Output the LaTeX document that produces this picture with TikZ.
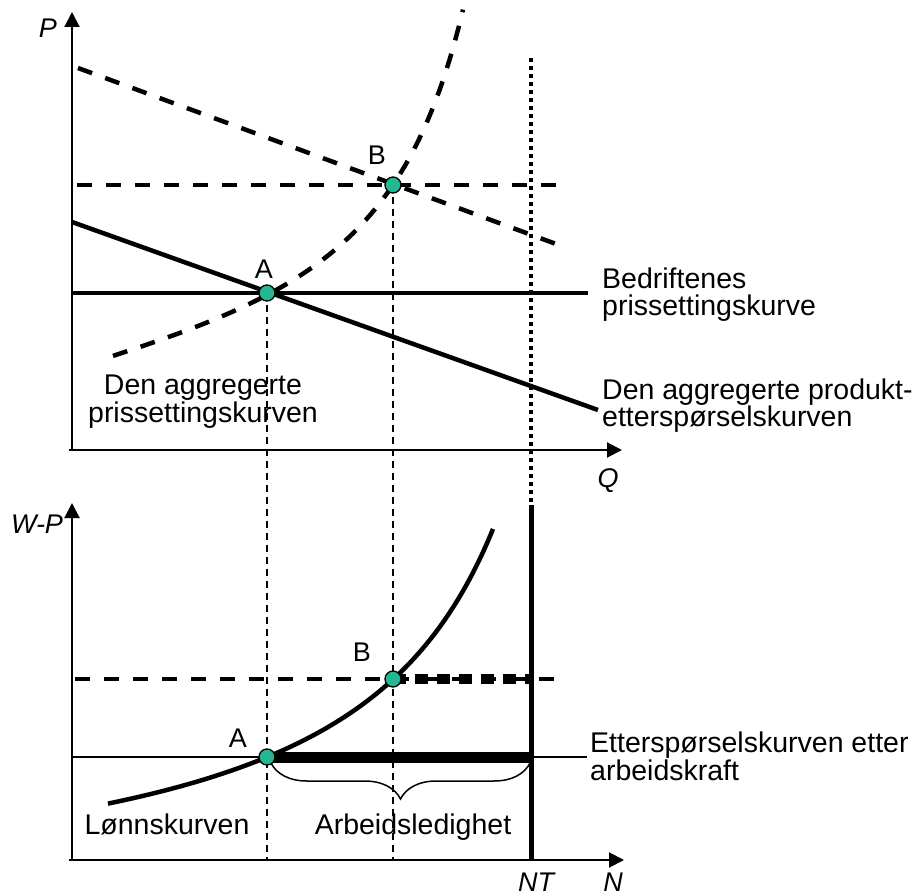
\documentclass[tikz,border=0pt]{standalone}
\usepackage{fontspec}
\setmainfont{Liberation Sans}
\usepackage{tikz}
\usetikzlibrary{arrows.meta}
\usetikzlibrary{decorations.pathreplacing}

\definecolor{eqgreen}{RGB}{36,184,146}

\begin{document}
\begin{tikzpicture}[x=1pt,y=-1pt,
    axis/.style={line width=2pt,-{Triangle[length=15pt,width=15pt]}},
    curve/.style={line width=4.5pt},
    dashcurve/.style={line width=4.5pt,dash pattern=on 15pt off 14pt},
    guide/.style={line width=2pt,dash pattern=on 7pt off 5pt},
    eqpoint/.style={circle,draw,line width=1.3pt,fill=eqgreen,minimum size=16pt,inner sep=0pt},
    ptlabel/.style={font=\fontsize{27}{27}\selectfont,inner sep=0pt},
    axlabel/.style={font=\fontsize{27}{27}\selectfont\itshape,inner sep=0pt},
    txt/.style={font=\fontsize{28.5}{27}\selectfont,inner sep=0pt,align=left}]
    \useasboundingbox (0,0) rectangle (913,896);

    % Define the key positions
    \def\xA{267}   % employment at A
    \def\xB{393}   % employment at B
    \def\xNT{531}  % labour force
    \def\yQ{450}   % Q axis
    \def\yN{860}   % N axis

    % Calculate the coordinates of the points
    \coordinate (A1) at (\xA,293);
    \coordinate (B1) at (\xB,185);
    \coordinate (A2) at (\xA,757);
    \coordinate (B2) at (\xB,679);
    \coordinate (NTtop) at (\xNT,58);
    \coordinate (NTmid) at (\xNT,505);
    \coordinate (NTbot) at (\xNT,\yN);

    % Draw the axes
    \draw[axis] (72,\yQ) -- (72,12);
    \draw[axis] (69,\yQ) -- (622,\yQ);
    \draw[axis] (72,\yN) -- (72,503);
    \draw[axis] (69,\yN) -- (624,\yN);
    \node[axlabel,anchor=base] (Plab) at (48,38) {P};
    \node[axlabel,anchor=base] (Qlab) at (608,487) {Q};
    \node[axlabel,anchor=base] (WPlab) at (37,533) {W-P};
    \node[axlabel,anchor=base] (NTlab) at (536,891) {NT};
    \node[axlabel,anchor=base] (Nlab) at (613,891) {N};

    % Draw the texts (base is the last line)
    \node[txt,anchor=base west] (firmlab) at (602,315) {Bedriftenes\\prissettingskurve};
    \node[txt,anchor=base west] (demlab) at (602,426) {Den aggregerte produkt-\\etterspørselskurven};
    \node[txt,align=center,anchor=base] (agglab) at (203,422) {Den aggregerte\\[1pt]prissettingskurven};
    \node[txt,anchor=base west] (labdemlab) at (590,780) {Etterspørselskurven etter\\[1pt]arbeidskraft};
    \node[txt,anchor=base] (wagelab) at (167,834) {Lønnskurven};
    \node[txt,anchor=base] (unemplab) at (413,834) {Arbeidsledighet};

    % Draw the guide lines
    \draw[guide] (A1) -- (\xA,\yN);
    \draw[guide] (B1) -- (\xB,\yN);
    \draw[line width=4.5pt,dash pattern=on 4pt off 4pt] (NTtop) -- (NTmid);
    \draw[line width=5pt] (NTmid) -- (NTbot);

    % Draw the upper panel
    \draw[dashcurve] (78,68) -- (567,248);
    \draw[dashcurve] (77,185) -- (570,185);
    \draw[curve] (72,222) -- (598,410);
    \draw[curve] (72,293) -- (588,293);
    \draw[dashcurve] plot[domain=113:463,samples=80]
        (\x,{440-439/((565-\x)/100)+13*((463-\x)/350)^3});

    % Draw the lower panel
    \draw[dashcurve] (75,679) -- (557,679);
    \draw[line width=10pt,dash pattern=on 13pt off 9pt] (B2) -- (\xNT,679);
    \draw[line width=2.5pt] (72,757) -- (587,757);
    \draw[line width=11pt] (A2) -- (\xNT,757);
    \draw[curve] plot[domain=108:493,samples=80] (\x,{915.6-607/((650-\x)/100)});
    \draw[line width=1.5pt,decorate,decoration={brace,mirror,amplitude=36pt}] (271,763) -- (530,763);

    % Draw the equilibria
    \node[eqpoint] (ptA1) at (A1) {};
    \node[eqpoint] (ptB1) at (B1) {};
    \node[eqpoint] (ptA2) at (A2) {};
    \node[eqpoint] (ptB2) at (B2) {};
    \node[ptlabel,anchor=base] (labA1) at (264,278) {A};
    \node[ptlabel,anchor=base] (labB1) at (377,165) {B};
    \node[ptlabel,anchor=base] (labA2) at (238,747) {A};
    \node[ptlabel,anchor=base] (labB2) at (362,661) {B};
\end{tikzpicture}
\end{document}
